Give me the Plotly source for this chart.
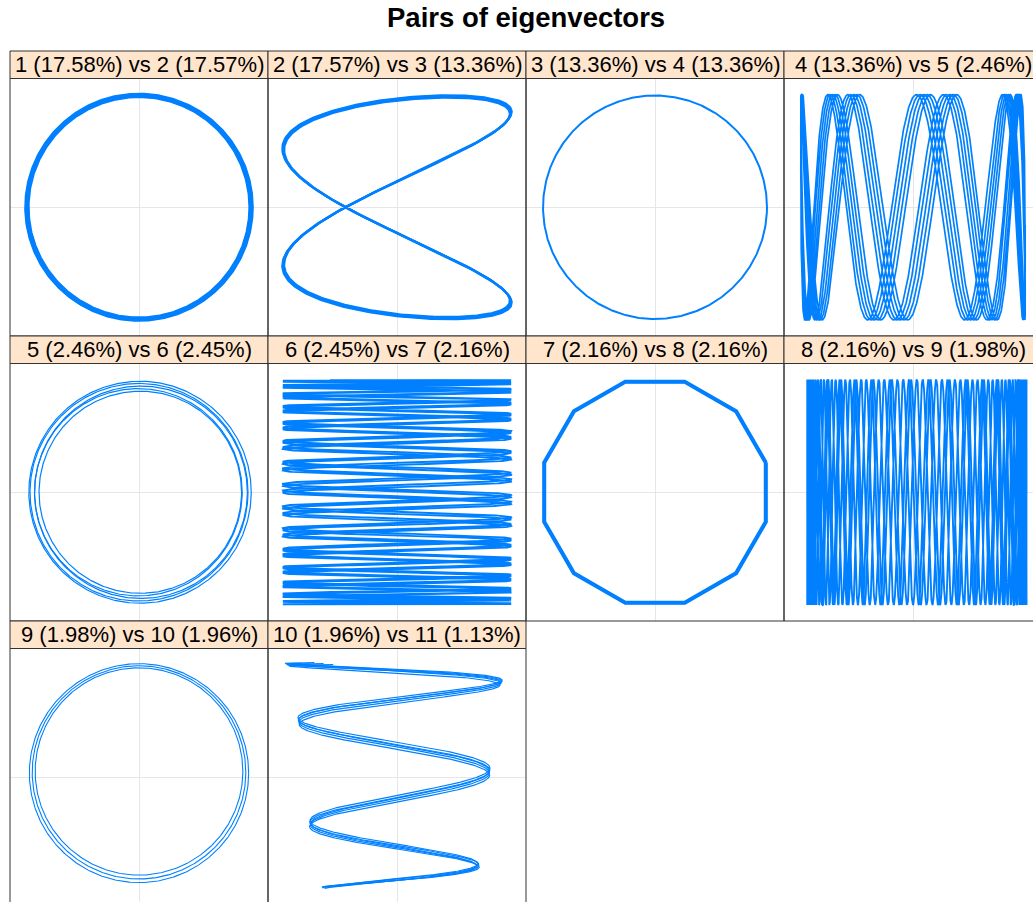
import numpy as np
import plotly.graph_objects as go

W, H = 1033, 902
TITLE = "Pairs of eigenvectors"

# eigenvalue shares (%) of components 1..11
SHARE = [17.58, 17.57, 13.36, 13.36, 2.46, 2.45, 2.16, 2.16, 1.98, 1.96, 1.13]
PAIR_X = [1, 2, 3, 4, 5, 6, 7, 8, 9, 10]
PAIR_Y = [2, 3, 4, 5, 6, 7, 8, 9, 10, 11]

# circle-like pairs: radius of each loop and centre shift of each loop
P1_RADII = [0.858, 0.864, 0.870, 0.875, 0.880]
P3_RADII = [0.868]
P5_RADII = [0.785, 0.805, 0.825, 0.845, 0.862]
P5_SHIFT_X = [0.010, -0.005, 0.015, 0.000, 0.008]
P9_RADII = [0.805, 0.828, 0.850]
P9_SHIFT_Y = [0.045, 0.038, 0.032]

# 2 vs 3: x runs twice as fast as y
P2_AX = [0.875, 0.880, 0.885, 0.889]
P2_BY = [0.852, 0.858, 0.864, 0.870]
P2_PHASE = -0.47

# 4 vs 5: slow x, y seven times faster with a slight drift
P4_AMP = (0.87, 0.875)
P4_RATIO = 7.035
P4_PHASE = 0.31
P4_CYCLES = 5

# 6 vs 7 and 8 vs 9: one fast, one slow component
P6_AMP = (0.885, 0.87)
P6_RATIO = 31.3
P8_AMP = (0.85, 0.875)
P8_SHIFT_X = 0.03
P8_RATIO = 35.4

# 7 vs 8: twelve-sided polygon (period 12)
P7_RADIUS = [0.885, 0.893, 0.889]
P7_START_DEG = 15

# 10 vs 11: x oscillates while y moves from top to bottom
P10_AMP_TOP = [0.87, 0.855, 0.875, 0.862, 0.85]
P10_AMP_DROP = [0.10, 0.09, 0.105, 0.095, 0.085]
P10_RATE = [6.68, 6.66, 6.70, 6.69, 6.67]
P10_OFFSET = [-0.55, -0.65, -0.75, -0.85, -0.95]
P10_BY = [0.885, 0.878, 0.89, 0.882, 0.874]

COL_LEFT = [10, 268, 526, 784]
PANEL_W = 258
ROW_TOP = [51, 336, 621]
STRIP_H = 27.5
PANEL_H = 257.5
LINE_COL = "#0080ff"


def join(parts):
    xs, ys = [], []
    for x, y in parts:
        xs.extend(list(x) + [None])
        ys.extend(list(y) + [None])
    return xs, ys


def panel_curves(k):
    t = np.linspace(0, 2 * np.pi, 500)
    if k == 0:
        return join([(r * np.cos(t), r * np.sin(t)) for r in P1_RADII]), 2.6
    if k == 1:
        return join([(a * np.sin(2 * t + P2_PHASE), b * np.sin(t))
                     for a, b in zip(P2_AX, P2_BY)]), 2.2
    if k == 2:
        return join([(r * np.cos(t), r * np.sin(t)) for r in P3_RADII]), 2.0
    if k == 3:
        s = np.linspace(0, 2 * np.pi * P4_CYCLES, 8000)
        return join([(P4_AMP[0] * np.cos(s),
                      -P4_AMP[1] * np.cos(P4_RATIO * s + P4_PHASE))]), 1.7
    if k == 4:
        return join([(r * np.cos(t) + dx, r * np.sin(t))
                     for r, dx in zip(P5_RADII, P5_SHIFT_X)]), 1.2
    if k == 5:
        s = np.linspace(0, 4 * np.pi, 9000)
        return join([(P6_AMP[0] * np.sin(P6_RATIO * s),
                      P6_AMP[1] * np.cos(s))]), 1.9
    if k == 6:
        ang = np.deg2rad(P7_START_DEG + 30 * np.arange(13))
        return join([(r * np.cos(ang), r * np.sin(ang)) for r in P7_RADIUS]), 3.0
    if k == 7:
        s = np.linspace(0, 4 * np.pi, 9000)
        return join([(P8_AMP[0] * np.cos(s) + P8_SHIFT_X,
                      P8_AMP[1] * np.sin(P8_RATIO * s))]), 1.9
    if k == 8:
        return join([(r * np.cos(t), r * np.sin(t) + dy)
                     for r, dy in zip(P9_RADII, P9_SHIFT_Y)]), 1.1
    s = np.linspace(0, 2.9, 800)
    parts = []
    for a, d, w, c, b in zip(P10_AMP_TOP, P10_AMP_DROP, P10_RATE, P10_OFFSET, P10_BY):
        parts.append((-(a - d * s) * np.cos(w * s + c), b * np.cos(s)))
    return join(parts), 1.2


fig = go.Figure()
shapes, annotations = [], []
for k in range(10):
    row, col = divmod(k, 4)
    left = COL_LEFT[col]
    right_vis = min(left + PANEL_W, W)
    cx = left + PANEL_W / 2
    ux = PANEL_W / 2
    top = ROW_TOP[row] + STRIP_H
    bottom_vis = min(top + PANEL_H, H)
    cy = top + PANEL_H / 2
    uy = PANEL_H / 2
    ax = "" if k == 0 else str(k + 1)
    common = dict(showgrid=False, showticklabels=False, ticks="",
                  zeroline=True, zerolinecolor="#e6e6e6", zerolinewidth=1,
                  showline=False, fixedrange=True)
    fig.update_layout(**{
        f"xaxis{ax}": dict(domain=[left / W, right_vis / W],
                           range=[-1, (right_vis - cx) / ux],
                           anchor=f"y{ax}", **common),
        f"yaxis{ax}": dict(domain=[1 - bottom_vis / H, 1 - top / H],
                           range=[(cy - bottom_vis) / uy, 1],
                           anchor=f"x{ax}", **common),
    })
    (xs, ys), lw = panel_curves(k)
    fig.add_trace(go.Scatter(x=xs, y=ys, mode="lines", xaxis=f"x{ax}",
                             yaxis=f"y{ax}", line=dict(color=LINE_COL, width=lw),
                             connectgaps=False, hoverinfo="skip", showlegend=False))
    # strip
    st = ROW_TOP[row]
    shapes.append(dict(type="rect", xref="paper", yref="paper",
                       x0=left / W, x1=(left + PANEL_W) / W,
                       y0=1 - (st + STRIP_H) / H, y1=1 - st / H,
                       fillcolor="#ffe5cc", line=dict(color="#333333", width=1),
                       layer="above"))
    # panel frame
    shapes.append(dict(type="rect", xref="paper", yref="paper",
                       x0=left / W, x1=(left + PANEL_W) / W,
                       y0=1 - (top + PANEL_H) / H, y1=1 - top / H,
                       fillcolor="rgba(0,0,0,0)", line=dict(color="#333333", width=1),
                       layer="above"))
    i, j = PAIR_X[k], PAIR_Y[k]
    label = f"{i} ({SHARE[i - 1]:.2f}%) vs {j} ({SHARE[j - 1]:.2f}%)"
    annotations.append(dict(text=label, xref="paper", yref="paper",
                            x=cx / W, y=1 - (st + STRIP_H / 2) / H,
                            xanchor="center", yanchor="middle", showarrow=False,
                            font=dict(family="Liberation Sans, Arial, sans-serif",
                                      size=22, color="#000000")))

annotations.append(dict(text=TITLE, xref="paper", yref="paper",
                        x=526 / W, y=1 - 18 / H, xanchor="center", yanchor="middle",
                        showarrow=False,
                        font=dict(family="Liberation Sans, Arial, sans-serif",
                                  size=27.5, color="#000000", weight="bold")))

fig.update_layout(width=W, height=H, margin=dict(l=0, r=0, t=0, b=0),
                  paper_bgcolor="white", plot_bgcolor="white",
                  shapes=shapes, annotations=annotations, showlegend=False)
fig.write_html("out.html")
